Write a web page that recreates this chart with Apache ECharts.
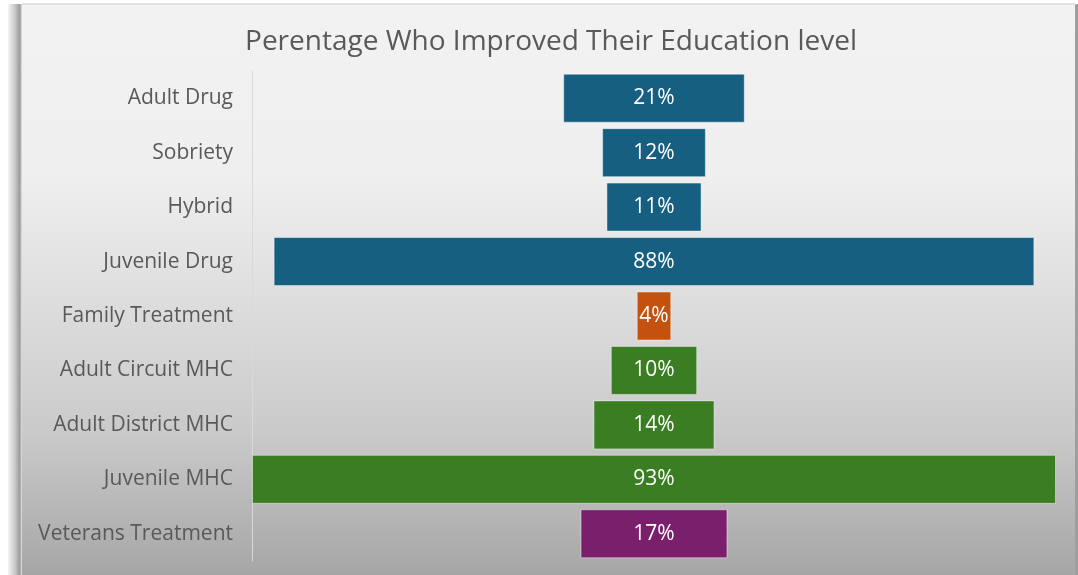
<!DOCTYPE html>
<html>
<head>
<meta charset="utf-8">
<script src="https://cdn.jsdelivr.net/npm/echarts@6/dist/echarts.min.js"></script>
<style>
html,body{margin:0;padding:0;background:#ffffff;}
#chart{width:1078px;height:575px;}
</style>
</head>
<body>
<div id="chart"></div>
<script>
const titleText = 'Perentage Who Improved Their Education level';
const categories = ['Adult Drug','Sobriety','Hybrid','Juvenile Drug','Family Treatment','Adult Circuit MHC','Adult District MHC','Juvenile MHC','Veterans Treatment'];
const values = [21, 12, 11, 88, 4, 10, 14, 93, 17];
const barColors = ['#175f80','#175f80','#175f80','#175f80','#c4520f','#3b7d23','#3b7d23','#3b7d23','#7a1f6c'];

const maxVal = Math.max(...values);
const offsets = values.map(v => (maxVal - v) / 2);

const chart = echarts.init(document.getElementById('chart'));
chart.setOption({
  animation: false,
  backgroundColor: 'transparent',
  graphic: [
    {
      type: 'rect', z: -10, silent: true,
      shape: {x: 22, y: 4, width: 1054, height: 571},
      style: {
        fill: new echarts.graphic.LinearGradient(0, 0, 0, 1, [
          {offset: 0, color: '#f2f2f2'},
          {offset: 0.3, color: '#efefef'},
          {offset: 0.5, color: '#dfdfdf'},
          {offset: 0.75, color: '#cacaca'},
          {offset: 1, color: '#a6a6a6'}
        ])
      }
    },
    {
      type: 'rect', z: -9, silent: true,
      shape: {x: 8, y: 4, width: 14, height: 571},
      style: {
        fill: new echarts.graphic.LinearGradient(0, 0, 1, 0, [
          {offset: 0, color: '#f4f4f4'},
          {offset: 0.5, color: '#c8c8c8'},
          {offset: 0.85, color: '#9a9a9a'},
          {offset: 1, color: '#e8e8e8'}
        ])
      }
    },
    {
      type: 'rect', z: -9, silent: true,
      shape: {x: 1075, y: 4, width: 3, height: 571},
      style: {fill: '#9e9e9e'}
    },
    {
      type: 'rect', z: -9, silent: true,
      shape: {x: 22, y: 3, width: 1054, height: 2},
      style: {fill: '#e2e2e2'}
    }
  ],
  title: {
    text: titleText,
    left: 546, top: 23, textAlign: 'center',
    textStyle: {fontFamily: 'Open Sans', fontSize: 28, fontWeight: 'normal', color: '#595959'}
  },
  grid: {left: 252, right: 22, top: 71, bottom: 14, containLabel: false},
  xAxis: {
    type: 'value', min: 0, max: maxVal, show: false
  },
  yAxis: {
    type: 'category', data: categories, inverse: true,
    axisLine: {show: true, lineStyle: {color: '#d9d9d9', width: 1}},
    axisTick: {show: false},
    axisLabel: {fontFamily: 'Open Sans', fontSize: 21, color: '#595959', margin: 19, padding: [4, 0, 0, 0]}
  },
  series: [
    {
      type: 'bar', stack: 'f', data: offsets, barCategoryGap: '10%',
      itemStyle: {color: 'transparent'}, silent: true
    },
    {
      type: 'bar', stack: 'f', barCategoryGap: '10%',
      data: values.map((v, i) => ({value: v, itemStyle: {color: barColors[i]}})),
      itemStyle: {borderColor: 'rgba(255,255,255,0.45)', borderWidth: 1},
      label: {
        show: true, position: 'inside', formatter: '{c}%',
        fontFamily: 'Open Sans', fontSize: 21, color: '#ffffff', padding: [4, 0, 0, 0]
      }
    }
  ]
});
</script>
</body>
</html>
